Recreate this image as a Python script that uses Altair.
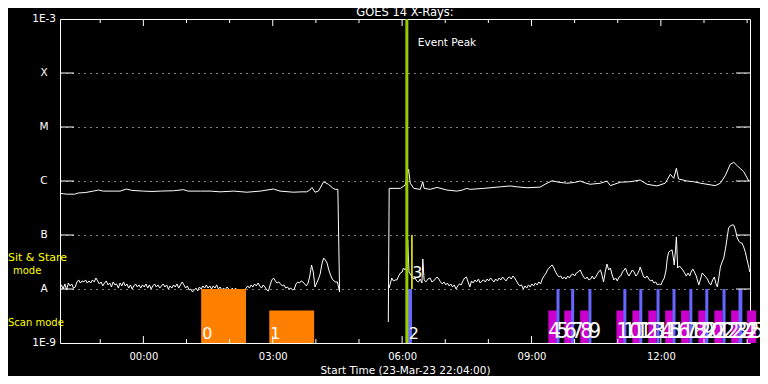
import altair as alt
import pandas as pd

FONT = "DejaVu Sans"

title_text = "GOES 14 X-Rays:"
x_title = "Start Time (23-Mar-23 22:04:00)"
# hours relative to 00:00 on 24-Mar-23 (plot spans 22:04 .. 14:04)
x_domain = [-1.933, 14.067]
y_domain = [1e-9, 1e-3]
major_hours = [0, 3, 6, 9, 12]
minor_hours = [-1, 1, 2, 4, 5, 7, 8, 10, 11, 13, 14]
class_levels = [1e-8, 1e-7, 1e-6, 1e-5, 1e-4]
class_names = ["A", "B", "C", "M", "X"]
edge_levels = [1e-9, 1e-3]
edge_names = ["1E-9", "1E-3"]
event_peak_hour = 6.11

# GOES long channel (units of 1e-7 W/m^2), before and after the data gap
long_pre = [(-1.93, 5.9), (-1.85, 5.8), (-1.78, 5.7), (-1.59, 5.7), (-1.51, 6.0), (-1.35, 6.1),
            (-1.16, 6.5), (-1.04, 6.8), (-0.93, 6.5), (-0.70, 6.5), (-0.54, 6.5), (-0.39, 7.1),
            (-0.27, 6.7), (0.0, 6.5), (0.20, 6.4), (0.39, 6.5), (0.70, 6.6), (0.93, 6.9),
            (1.04, 6.5), (1.32, 6.5), (1.55, 6.5), (1.78, 6.3), (2.09, 6.5), (2.40, 6.2),
            (2.71, 6.5), (3.02, 7.1), (3.17, 6.5), (3.48, 6.2), (3.68, 6.3), (3.79, 6.3),
            (3.86, 6.8), (3.91, 7.6), (3.98, 6.2), (4.06, 6.5), (4.18, 9.7), (4.29, 8.7),
            (4.40, 7.3), (4.45, 7.0), (4.51, 7.0), (4.55, 0.088)]
long_post = [(5.68, 0.0245), (5.70, 7.3), (5.96, 7.3), (6.07, 8.4), (6.15, 16.5), (6.19, 9.1),
             (6.27, 7.3), (6.42, 7.0), (6.48, 9.7), (6.51, 7.3), (6.65, 7.0), (6.81, 7.6),
             (7.04, 6.8), (7.27, 6.5), (7.40, 6.8), (7.50, 7.3), (7.58, 7.0), (7.89, 7.3),
             (8.28, 7.8), (8.51, 8.1), (8.66, 7.8), (8.90, 7.5), (9.20, 7.7), (9.36, 9.1),
             (9.48, 10.1), (9.63, 9.5), (9.82, 9.1), (10.00, 9.4), (10.13, 10.0), (10.25, 9.2),
             (10.36, 8.7), (10.60, 9.1), (10.75, 10.0), (10.83, 8.2), (11.06, 9.5), (11.29, 9.7),
             (11.52, 10.4), (11.68, 8.7), (11.91, 8.1), (12.10, 9.1), (12.22, 13.3), (12.30, 11.2),
             (12.36, 17.2), (12.41, 10.9), (12.61, 10.0), (12.76, 9.7), (12.92, 9.1), (13.07, 8.7),
             (13.26, 8.2), (13.38, 9.1), (13.50, 12.9), (13.61, 20.4), (13.69, 22.2), (13.77, 19.2),
             (13.92, 14.9), (14.04, 10.0)]

# GOES short channel (units of 1e-9 W/m^2)
short_pre = [(-1.93, 10.4), (-1.90, 11.9), (-1.86, 10.0), (-1.82, 12.4), (-1.78, 9.6), (-1.74, 12.9),
             (-1.70, 11.4), (-1.66, 12.4), (-1.62, 10.4), (-1.58, 10.9), (-1.54, 13.5), (-1.50, 14.7),
             (-1.46, 12.9), (-1.42, 14.1), (-1.38, 13.5), (-1.34, 14.7), (-1.30, 12.9), (-1.26, 14.1),
             (-1.22, 12.9), (-1.18, 14.7), (-1.14, 13.5), (-1.10, 16.0), (-1.06, 14.1), (-1.02, 12.4),
             (-0.98, 13.5), (-0.94, 11.4), (-0.90, 12.9), (-0.86, 14.1), (-0.82, 11.9), (-0.78, 12.9),
             (-0.74, 10.9), (-0.70, 13.5), (-0.66, 11.9), (-0.62, 12.4), (-0.58, 10.4), (-0.54, 12.9),
             (-0.50, 11.4), (-0.46, 13.5), (-0.42, 11.4), (-0.38, 12.4), (-0.34, 10.4), (-0.30, 11.9),
             (-0.26, 10.0), (-0.22, 11.4), (-0.18, 12.4), (-0.14, 10.9), (-0.10, 11.9), (-0.06, 10.4),
             (-0.02, 11.9), (0.02, 10.9), (0.06, 12.4), (0.10, 10.4), (0.14, 11.9), (0.18, 10.0),
             (0.22, 11.4), (0.26, 12.4), (0.30, 10.9), (0.34, 11.9), (0.38, 10.4), (0.42, 11.4),
             (0.46, 12.4), (0.50, 10.9), (0.54, 11.9), (0.58, 10.0), (0.62, 11.4), (0.66, 10.4),
             (0.70, 11.9), (0.74, 10.9), (0.78, 12.4), (0.82, 10.4), (0.86, 11.9), (0.90, 13.5),
             (0.94, 11.9), (0.98, 10.4), (1.02, 11.4), (1.06, 9.6), (1.10, 10.0), (1.14, 8.8),
             (1.18, 9.6), (1.22, 10.4), (1.26, 9.2), (1.30, 10.9), (1.34, 10.0), (1.38, 11.4),
             (1.42, 10.4), (1.46, 11.9), (1.50, 10.4), (1.54, 11.4), (1.58, 10.0), (1.62, 11.4),
             (1.66, 10.4), (1.70, 11.9), (1.74, 10.0), (1.78, 10.9), (1.82, 9.6), (1.86, 10.4),
             (1.90, 9.6), (1.94, 10.9), (1.98, 10.0), (2.02, 9.2), (2.06, 10.4), (2.10, 9.6),
             (2.14, 10.4), (2.18, 9.2), (2.22, 10.0), (2.26, 8.8), (2.30, 10.0), (2.34, 9.2),
             (2.38, 10.4), (2.42, 11.4), (2.46, 10.4), (2.50, 11.9), (2.54, 10.9), (2.58, 12.4),
             (2.62, 11.4), (2.66, 12.9), (2.70, 11.4), (2.74, 10.4), (2.78, 11.9), (2.82, 10.9),
             (2.86, 9.6), (2.90, 9.2), (2.94, 11.9), (2.98, 14.7), (3.02, 16.0), (3.06, 14.1),
             (3.10, 12.9), (3.14, 13.5), (3.18, 12.4), (3.22, 11.4), (3.26, 11.9), (3.30, 10.4),
             (3.34, 10.9), (3.38, 10.0), (3.42, 10.4), (3.46, 9.6), (3.50, 10.0), (3.54, 12.4),
             (3.58, 13.5), (3.62, 12.9), (3.66, 14.1), (3.70, 13.5), (3.74, 12.4), (3.78, 11.4),
             (3.82, 12.9), (3.86, 17.4), (3.90, 27.8), (3.94, 20.6), (3.98, 10.9), (4.02, 12.9),
             (4.06, 15.3), (4.10, 19.0), (4.14, 29.0), (4.18, 37.5), (4.22, 34.4), (4.26, 30.3),
             (4.30, 22.5), (4.34, 18.2), (4.38, 15.3), (4.42, 14.1), (4.46, 13.5), (4.50, 13.5),
             (4.55, 8.8)]
short_post = [(5.70, 10.4), (5.73, 12.9), (5.76, 16.0), (5.80, 14.1), (5.84, 14.7), (5.88, 14.7),
              (5.92, 17.4), (5.96, 19.8), (6.00, 20.6), (6.03, 24.5), (6.07, 22.5), (6.10, 24.5),
              (6.13, 81.0), (6.16, 20.6), (6.19, 19.0), (6.23, 16.7), (6.27, 15.3), (6.30, 16.0),
              (6.34, 14.1), (6.38, 13.5), (6.42, 15.3), (6.46, 12.9), (6.48, 35.9), (6.51, 14.7),
              (6.55, 13.5), (6.60, 15.3), (6.65, 16.0), (6.69, 13.5), (6.73, 14.1), (6.77, 15.3),
              (6.81, 16.7), (6.85, 15.3), (6.89, 13.5), (6.93, 12.4), (6.97, 13.5), (7.01, 11.9),
              (7.05, 12.9), (7.09, 11.4), (7.13, 12.4), (7.17, 10.9), (7.21, 11.9), (7.25, 10.0),
              (7.29, 11.4), (7.33, 12.4), (7.37, 11.9), (7.41, 14.1), (7.45, 16.0), (7.49, 16.7),
              (7.53, 13.5), (7.57, 10.9), (7.61, 14.1), (7.65, 12.9), (7.69, 14.7), (7.73, 13.5),
              (7.77, 15.3), (7.81, 12.9), (7.85, 14.1), (7.89, 14.7), (7.93, 13.5), (7.97, 15.3),
              (8.01, 14.1), (8.05, 16.0), (8.09, 14.7), (8.13, 13.5), (8.17, 15.3), (8.21, 14.1),
              (8.25, 16.0), (8.29, 14.7), (8.33, 16.7), (8.37, 15.3), (8.41, 14.1), (8.45, 16.0),
              (8.49, 16.7), (8.53, 15.3), (8.57, 17.4), (8.61, 16.0), (8.65, 14.1), (8.69, 12.4),
              (8.73, 11.4), (8.77, 11.9), (8.81, 10.0), (8.85, 11.4), (8.89, 10.4), (8.93, 11.9),
              (8.97, 10.9), (9.01, 12.4), (9.05, 11.4), (9.09, 12.9), (9.13, 11.9), (9.17, 13.5),
              (9.21, 12.4), (9.25, 15.3), (9.29, 17.4), (9.33, 19.0), (9.37, 22.5), (9.41, 24.5),
              (9.45, 26.7), (9.48, 27.8), (9.52, 24.5), (9.56, 20.6), (9.60, 18.2), (9.64, 16.7),
              (9.68, 17.4), (9.72, 15.3), (9.76, 16.7), (9.80, 15.3), (9.84, 17.4), (9.88, 16.0),
              (9.92, 18.2), (9.96, 19.0), (10.00, 17.4), (10.04, 19.8), (10.08, 20.6), (10.13, 22.5),
              (10.17, 19.0), (10.21, 16.7), (10.25, 15.3), (10.29, 16.7), (10.33, 14.7), (10.37, 15.3),
              (10.41, 17.4), (10.45, 15.3), (10.49, 16.7), (10.53, 19.0), (10.57, 21.5), (10.60, 22.5),
              (10.64, 17.4), (10.67, 13.5), (10.71, 20.6), (10.75, 29.0), (10.79, 22.5), (10.83, 24.5),
              (10.87, 18.2), (10.91, 14.7), (10.95, 16.0), (10.99, 14.1), (11.03, 16.7), (11.07, 17.4),
              (11.11, 20.6), (11.15, 22.5), (11.18, 24.5), (11.22, 19.8), (11.26, 17.4), (11.30, 19.8),
              (11.34, 22.5), (11.38, 20.6), (11.42, 17.4), (11.46, 19.0), (11.50, 22.5), (11.52, 25.5),
              (11.56, 20.6), (11.60, 16.7), (11.64, 16.0), (11.68, 17.4), (11.72, 15.3), (11.76, 14.1),
              (11.80, 14.7), (11.84, 12.9), (11.88, 13.5), (11.92, 11.9), (11.96, 12.4), (12.00, 11.9),
              (12.04, 14.1), (12.08, 16.0), (12.12, 22.5), (12.15, 37.5), (12.18, 48.0), (12.22, 51.0),
              (12.26, 53.0), (12.29, 37.5), (12.31, 27.8), (12.34, 53.0), (12.36, 92.0), (12.39, 24.5),
              (12.43, 26.7), (12.47, 24.5), (12.51, 22.5), (12.55, 19.8), (12.59, 17.4), (12.63, 19.8),
              (12.67, 17.4), (12.70, 20.6), (12.74, 23.5), (12.78, 20.6), (12.82, 17.4), (12.86, 13.5),
              (12.88, 11.9), (12.92, 15.3), (12.96, 19.8), (13.00, 18.2), (13.04, 16.7), (13.08, 15.3),
              (13.12, 12.9), (13.16, 11.9), (13.20, 14.7), (13.24, 16.7), (13.28, 12.4), (13.31, 10.9),
              (13.35, 17.4), (13.38, 25.5), (13.42, 31.6), (13.46, 37.5), (13.50, 57.0), (13.54, 92.0),
              (13.57, 135.0), (13.61, 147.0), (13.65, 153.0), (13.69, 153.0), (13.73, 124.0), (13.77, 88.0),
              (13.81, 77.0), (13.85, 71.0), (13.88, 71.0), (13.92, 60.0), (13.96, 48.0), (14.00, 34.4),
              (14.04, 25.5), (14.06, 20.6)]

# observing events (hours), flux extent and colour
event_ids = [str(i) for i in range(27)]
event_start = [1.34, 2.92, 6.13, 6.21, 9.39, 9.58, 9.76, 9.92, 10.13, 10.32, 10.97, 11.13, 11.34,
               11.50, 11.71, 11.90, 12.10, 12.27, 12.47, 12.66, 12.87, 13.03, 13.24, 13.43, 13.63,
               13.80, 14.00]
event_end = [2.38, 3.96, 6.23, 6.245, 9.60, 9.65, 9.95, 9.99, 10.32, 10.39, 11.15, 11.20, 11.52,
             11.57, 11.90, 11.97, 12.29, 12.34, 12.66, 12.73, 13.05, 13.10, 13.43, 13.50, 13.82,
             13.89, 14.21]
event_top = [1e-8, 4e-9, 1e-8, 1e-7] + [4e-9, 1e-8] * 11 + [4e-9]
event_bottom = [1e-9, 1e-9, 1e-9, 1e-8] + [1e-9] * 23
event_color = ["#FF8000", "#FF8000", "#6666FF", "#FFFF00"] + ["#CC00CC", "#6666FF"] * 11 + ["#CC00CC"]

mode_labels = ["Sit & Stare", "mode", "Scan mode"]
mode_label_flux = [3.75e-8, 2.15e-8, 2.35e-9]
mode_label_dx = [-52, -47, -52]
mode_label_size = [11, 10, 10]

# ---------------- build tables ----------------
rows = []
segments = [("long_a", long_pre, 1e-7), ("long_b", long_post, 1e-7),
            ("short_a", short_pre, 1e-9), ("short_b", short_post, 1e-9)]
for seg_name, pts, unit in segments:
    for i, (t, v) in enumerate(pts):
        rows.append({"t": t, "flux": v * unit, "seg": seg_name, "i": i})
curves = pd.DataFrame(rows)

events = pd.DataFrame({"id": event_ids, "start": event_start, "end": event_end,
                       "top": event_top, "bottom": event_bottom, "color": event_color})
events["n"] = events["id"].astype(int)

x_scale = alt.Scale(domain=x_domain, nice=False, zero=False)
y_scale = alt.Scale(type="log", domain=y_domain, nice=False)
W, H = 690, 324

x_axis = alt.Axis(values=major_hours,
                  labelExpr="(datum.value < 10 ? '0' : '') + datum.value + ':00'",
                  ticks=False, domain=False, grid=False, labelPadding=8, labelFontSize=10,
                  labelColor="white", labelFont=FONT, title=x_title, titleFontSize=10.5,
                  titleFontWeight="normal", titleColor="white", titleFont=FONT, titlePadding=4)
y_axis = alt.Axis(values=class_levels, grid=True, gridColor="white", gridDash=[1, 5],
                  gridWidth=1, gridOpacity=1, labels=False, ticks=False, domain=False, title=None)

X = lambda f: alt.X(f, scale=x_scale, axis=x_axis)
Y = lambda f: alt.Y(f, scale=y_scale, axis=y_axis)

rects = alt.Chart(events).mark_rect().encode(
    x=X("start:Q"), x2="end:Q", y=Y("top:Q"), y2="bottom:Q",
    color=alt.Color("color:N", scale=None))

lines = alt.Chart(curves).mark_line(color="white", strokeWidth=1, clip=True).encode(
    x=X("t:Q"), y=Y("flux:Q"), detail="seg:N", order="i:Q")

lab_small = alt.Chart(events).transform_filter("datum.n <= 2").mark_text(
    color="white", font=FONT, fontSize=16, align="left", baseline="alphabetic", dx=1, dy=-4
).encode(x=X("start:Q"), y=Y("bottom:Q"), text="id:N")
lab_three = alt.Chart(events).transform_filter("datum.n == 3").mark_text(
    color="white", font=FONT, fontSize=16, align="left", baseline="alphabetic", dx=1, dy=-11
).encode(x=X("start:Q"), y=Y("bottom:Q"), text="id:N")
lab_big = alt.Chart(events).transform_filter("datum.n >= 4").mark_text(
    color="white", font="Liberation Sans Narrow, DejaVu Sans Condensed, Liberation Sans",
    fontSize=22, align="left", baseline="alphabetic", dx=0, dy=-5
).encode(x=X("start:Q"), y=Y("bottom:Q"), text="id:N")

peak = pd.DataFrame({"t": [event_peak_hour], "label": ["Event Peak"], "flux": [3.6e-4]})
peak_rule = alt.Chart(peak).mark_rule(color="#99CC00", strokeWidth=3).encode(
    x=X("t:Q"), y=alt.value(0), y2=alt.value(H))
peak_text = alt.Chart(peak).mark_text(color="white", font=FONT, fontSize=10.5, align="left",
                                      baseline="middle", dx=11).encode(
    x=X("t:Q"), y=Y("flux:Q"), text="label:N")

title_df = pd.DataFrame({"label": [title_text]})
title_mark = alt.Chart(title_df).mark_text(color="white", font=FONT, fontSize=11.5, align="center",
                                           baseline="alphabetic").encode(
    x=alt.value(W / 2), y=alt.value(-3), text="label:N")

ticks_major = pd.DataFrame({"h": major_hours})
ticks_minor = pd.DataFrame({"h": minor_hours})
tick_layers = []
for df, ln in [(ticks_major, 7), (ticks_minor, 4)]:
    tick_layers.append(alt.Chart(df).mark_rule(color="white").encode(
        x=X("h:Q"), y=alt.value(0), y2=alt.value(ln)))
    tick_layers.append(alt.Chart(df).mark_rule(color="white").encode(
        x=X("h:Q"), y=alt.value(H - ln), y2=alt.value(H)))

levels = pd.DataFrame({"v": class_levels, "name": class_names})
edges = pd.DataFrame({"v": edge_levels, "name": edge_names})
ytick_left = alt.Chart(levels).mark_rule(color="white").encode(
    y=Y("v:Q"), x=alt.value(0), x2=alt.value(14))
ytick_right = alt.Chart(levels).mark_rule(color="white").encode(
    y=Y("v:Q"), x=alt.value(W - 14), x2=alt.value(W))
ylab_cls = alt.Chart(levels).mark_text(color="white", font=FONT, fontSize=10.5, align="center",
                                       baseline="middle").encode(
    y=Y("v:Q"), x=alt.value(-16), text="name:N")
ylab_edge = alt.Chart(edges).mark_text(color="white", font=FONT, fontSize=10.5, align="right",
                                       baseline="middle").encode(
    y=Y("v:Q"), x=alt.value(-4), text="name:N")

modes = pd.DataFrame({"label": mode_labels, "flux": mode_label_flux})
mode_text = []
for lbl, dx, fs in zip(mode_labels, mode_label_dx, mode_label_size):
    mode_text.append(alt.Chart(modes[modes["label"] == lbl]).mark_text(
        color="#FFFF00", font=FONT, fontSize=fs, align="left",
        baseline="middle").encode(y=Y("flux:Q"), x=alt.value(dx), text="label:N"))

chart = alt.layer(
    lines, rects, lab_small, lab_three, lab_big, peak_rule, peak_text, title_mark,
    *tick_layers, ytick_left, ytick_right, ylab_cls, ylab_edge, *mode_text
).properties(
    width=W, height=H,
    background="black",
    autosize=alt.AutoSizeParams(type="none"),
    padding={"left": 52, "top": 11, "right": 10, "bottom": 33},
).configure_view(stroke="white", strokeWidth=1)

chart.save("out.html", embed_options={"renderer": "svg", "actions": False})
